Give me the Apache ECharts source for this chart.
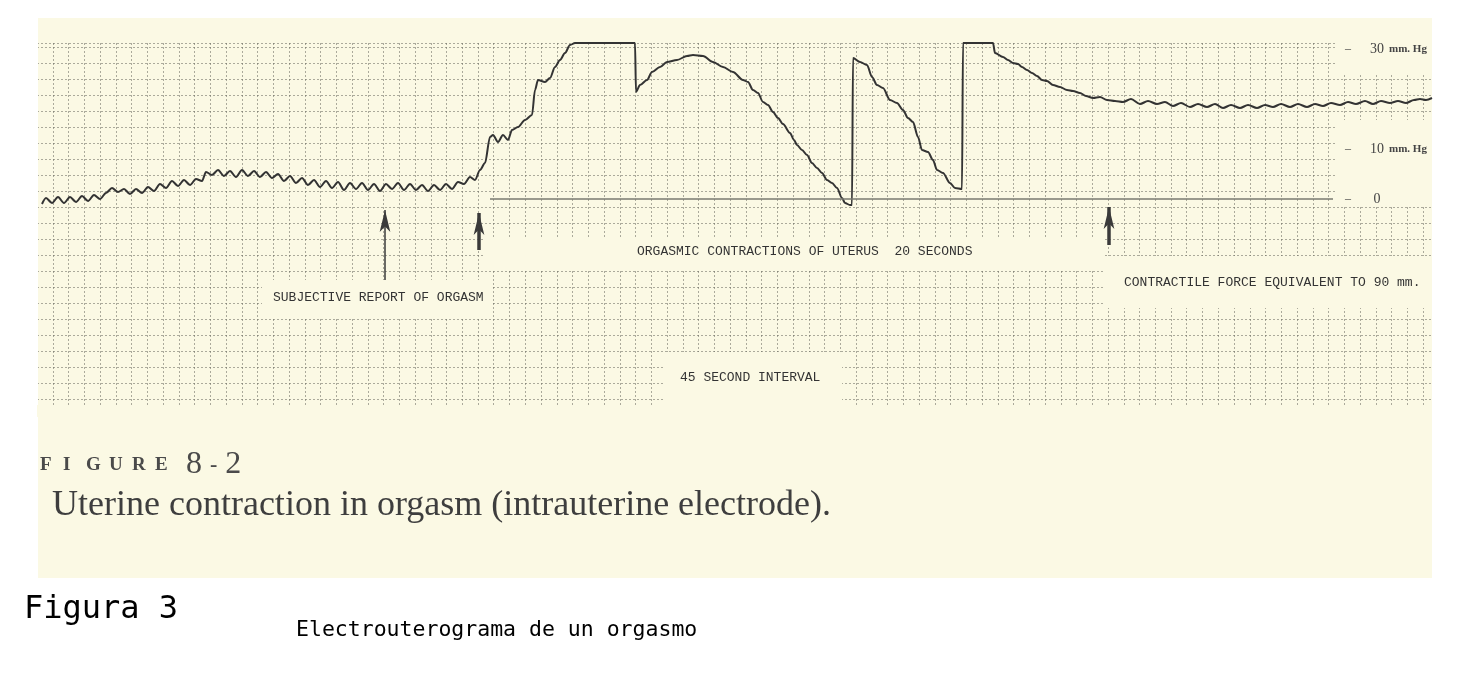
<!DOCTYPE html>
<html><head><meta charset="utf-8">
<script src="https://cdn.jsdelivr.net/npm/echarts@6/dist/echarts.min.js"></script>
<style>html,body{margin:0;padding:0;background:#fff}#c{width:1484px;height:683px}</style>
</head><body><div id="c"></div>
<script>
// [time (s), intrauterine pressure (mm Hg)]
const baselinePhase = [[0.5,-1.0],[0.9,0.2],[1.5,-0.8],[2.1,0.4],[2.7,-0.8],[3.3,0.4],[3.9,-0.6],[4.5,0.6],[5.1,-0.4],[5.7,0.8],[6.3,0.0],[6.9,1.2],[7.5,2.2],[8.1,1.4],[8.7,2.0],[9.3,1.0],[9.9,2.0],[10.5,1.2],[11.1,2.4],[11.7,1.6],[12.3,3.0],[12.9,2.2],[13.5,3.6],[14.1,2.6],[14.7,3.8],[15.3,2.8],[15.9,4.0],[16.5,3.6],[16.9,5.4],[17.5,4.8],[18.1,5.8],[18.7,4.6],[19.3,5.6],[19.9,4.4],[20.5,5.8],[21.1,4.6],[21.7,5.6],[22.3,4.4],[22.9,5.4],[23.5,4.2],[24.1,5.0],[24.7,3.6],[25.3,4.6],[25.9,3.2],[26.5,4.2],[27.1,2.8],[27.7,3.8],[28.3,2.4],[28.9,3.6],[29.5,2.2],[30.1,3.4],[30.7,1.8],[31.3,3.2],[31.9,2.0],[32.5,3.2],[33.1,1.8],[33.7,3.0],[34.3,1.6],[34.9,3.0],[35.5,2.0],[36.1,3.2],[36.7,1.8],[37.3,3.0],[37.9,1.8],[38.5,2.8],[39.1,1.6],[39.7,2.8],[40.3,1.8],[40.9,3.0],[41.5,2.0],[42.1,3.4],[42.7,3.0],[43.3,4.4]];
const contractionPhase = [[43.8,3.8],[44.3,5.8],[44.8,7.2],[45.3,12.4],[45.6,12.8],[46.1,11.4],[46.6,12.8],[47.1,11.8],[47.5,13.8],[48.1,14.4],[48.8,15.8],[49.5,16.8],[49.8,21.8],[50.1,23.8],[50.8,23.4],[51.3,24.2],[51.8,26.4],[52.3,27.8],[52.8,29.2],[53.3,30.8],[53.8,31.2],[59.8,31.2],[59.9,21.4],[60.3,22.8],[61.0,23.8],[61.5,25.4],[62.3,26.4],[63.0,27.4],[64.0,27.8],[65.0,28.6],[65.6,28.8],[66.6,28.6],[67.6,27.4],[68.6,26.4],[69.6,25.4],[70.6,23.8],[71.1,23.4],[71.6,21.8],[72.1,21.2],[72.6,19.4],[73.1,18.8],[73.6,17.4],[74.1,16.2],[74.6,15.0],[75.3,13.2],[75.7,11.8],[76.0,10.8],[76.5,9.8],[77.0,8.8],[77.5,7.2],[78.0,6.2],[78.5,5.2],[79.0,3.8],[79.5,3.2],[80.0,2.2],[80.5,0.2],[80.8,-0.8],[81.3,-1.2],[81.5,-1.2],[81.6,28.2],[82.3,27.4],[83.0,26.8],[83.5,24.4],[84.0,22.8],[84.6,22.2],[85.3,19.8],[86.0,19.2],[86.6,17.8],[87.1,16.2],[87.6,15.4],[88.1,12.4],[88.5,9.8],[89.1,9.4],[89.6,7.8],[90.0,5.8],[90.6,5.2],[91.3,3.2],[91.8,2.2],[92.5,2.0],[92.6,31.2],[95.6,31.2]];
const recoveryPhase = [[95.8,29.2],[96.6,28.4],[97.1,27.8],[97.6,27.2],[98.1,27.0],[98.5,26.4],[99.0,25.8],[99.5,25.2],[100.0,24.6],[100.5,23.8],[101.0,23.6],[101.6,22.8],[102.3,22.4],[103.0,21.8],[103.6,21.6],[104.3,21.2],[104.9,20.6],[105.6,20.2],[106.3,20.4],[107.0,19.8],[107.8,19.6],[108.6,19.4],[109.4,20.0],[110.3,19.0],[111.1,19.6],[112.0,19.0],[112.8,19.4],[113.6,18.6],[114.4,19.2],[115.3,18.4],[116.1,19.0],[117.0,18.4],[117.8,19.0],[118.6,18.2],[119.4,18.8],[120.3,18.2],[121.1,18.8],[122.0,18.2],[122.8,18.8],[123.6,18.4],[124.4,19.0],[125.3,18.4],[126.1,19.0],[127.0,18.4],[127.8,19.0],[128.6,18.6],[129.4,19.2],[130.3,18.8],[131.1,19.4],[131.9,19.0],[132.8,19.6],[133.6,19.0],[134.4,19.6],[135.3,19.2],[136.1,19.6],[136.9,19.2],[137.7,19.8],[138.3,20.0],[138.9,19.8],[139.5,20.2]];
const pressureTicks = [0, 10, 30];
const arrowTimes = [34.8, 44.2, 107.2];
const arrowFrom = [-16.2, -10.2, -9.2];
const arrowTo = [-2.2, -2.8, -1.6];
const zeroLineSpan = [45.3, 129.6];

const CREAM = '#fbf9e4';
const chart = echarts.init(document.getElementById('c'), null, {renderer: 'canvas'});

const arrowWidths = [1.5, 3.5, 3.5];
const markData = arrowTimes.map((t, i) => [
  {coord: [t, arrowFrom[i]], symbol: 'none', lineStyle: {width: arrowWidths[i], color: '#3a3a3a', type: 'solid'}},
  {coord: [t, arrowTo[i]], symbol: 'arrow', symbolSize: [8, 22]}
]);
markData.push([
  {coord: [zeroLineSpan[0], 0], symbol: 'none', lineStyle: {width: 1.5, color: '#7a7a70', type: 'solid'}},
  {coord: [zeroLineSpan[1], 0], symbol: 'none'}
]);

const cover = (x, y, w, h, fill) => ({type: 'rect', z: 1, silent: true, shape: {x, y, width: w, height: h}, style: {fill: fill || CREAM}});
const txt = (text, x, y, font, fill, z) => ({type: 'text', z: z || 10, silent: true, style: {text, x, y, font, fill: fill || '#333', verticalAlign: 'middle'}});
const mono = '13px "Liberation Mono", monospace';

const option = {
  animation: false,
  backgroundColor: CREAM,
  grid: {left: 37, right: 52, top: 43, bottom: 268},
  xAxis: {
    type: 'value', min: 0, max: 139.5, interval: 1.575,
    axisLine: {show: false}, axisTick: {show: false}, axisLabel: {show: false},
    splitLine: {show: true, lineStyle: {color: 'rgba(105,105,95,0.55)', width: 1, type: [2, 2]}}
  },
  yAxis: [{
    type: 'value', min: -43.2, max: 31.2, interval: 3.2, position: 'right',
    axisLine: {show: false}, axisTick: {show: false}, axisLabel: {show: false},
    splitLine: {show: true, lineStyle: {color: 'rgba(105,105,95,0.55)', width: 1, type: [2, 2]}}
  }, {
    type: 'value', min: -43.2, max: 31.2, position: 'right', z: 8,
    axisLine: {show: false}, axisTick: {show: false}, splitLine: {show: false},
    axisLabel: {
      customValues: pressureTicks, inside: true, margin: 87, align: 'left',
      fontFamily: '"Liberation Serif", serif', fontSize: 12, color: '#444',
      formatter: v => v === 0 ? '{d|–}{n|0}' : '{d|–}{n|' + v + '}{u|mm. Hg}',
      rich: {
        d: {width: 20, align: 'left', fontSize: 12, color: '#444'},
        n: {width: 24, align: 'center', fontSize: 14, color: '#444'},
        u: {fontSize: 11, color: '#444', fontWeight: 'bold'}
      }
    }
  }],
  series: [{
    type: 'line', yAxisIndex: 0, z: 3,
    data: baselinePhase.concat(contractionPhase, recoveryPhase),
    symbol: 'none', showSymbol: false, clip: false,
    smooth: 0.3, smoothMonotone: 'x',
    lineStyle: {color: '#333', width: 2},
    markLine: {silent: true, animation: false, label: {show: false}, symbol: ['none', 'arrow'],
      emphasis: {disabled: true}, data: markData}
  }],
  graphic: [
    // outside the scanned page
    cover(0, 0, 1484, 18, '#ffffff'), cover(0, 0, 38, 683, '#ffffff'),
    cover(1432, 0, 52, 683, '#ffffff'), cover(0, 578, 1484, 105, '#ffffff'),
    // blank areas of the chart paper
    cover(1336, 43, 96, 30), cover(1336, 120, 96, 85),
    cover(484, 237, 621, 33), cover(262, 280, 230, 38),
    cover(665, 352, 177, 53), cover(1105, 256, 327, 52),
    cover(37, 405, 1395, 12),
    txt('SUBJECTIVE REPORT OF ORGASM', 273, 298, mono),
    txt('ORGASMIC CONTRACTIONS OF UTERUS  20 SECONDS', 637, 252, mono),
    txt('CONTRACTILE FORCE EQUIVALENT TO 90 mm.', 1124, 283, mono),
    txt('45 SECOND INTERVAL', 680, 378, mono),
    {type: 'text', z: 10, silent: true, style: {
      text: '{l|F}{l|I}{l|G}{l|U}{l|R}{l|E}{n|8}{m|-}{n|2}', x: 40, y: 465, verticalAlign: 'middle',
      rich: {
        l: {width: 23, font: 'bold 19px "Liberation Serif", serif', fill: '#4a4a4a'},
        n: {font: '32px "Liberation Serif", serif', fill: '#4a4a4a', padding: [0, 0, 0, 8]},
        m: {font: 'bold 22px "Liberation Serif", serif', fill: '#4a4a4a', padding: [0, 0, 0, 8]}
      }}},
    txt('Uterine contraction in orgasm (intrauterine electrode).', 52, 506, '36px "Liberation Serif", serif', '#3e3e3e'),
    txt('Figura 3', 24, 610, '32px "DejaVu Sans Mono", monospace', '#000'),
    txt('Electrouterograma de un orgasmo', 296, 630, '21.5px "DejaVu Sans Mono", monospace', '#000')
  ]
};
chart.setOption(option);
</script></body></html>
